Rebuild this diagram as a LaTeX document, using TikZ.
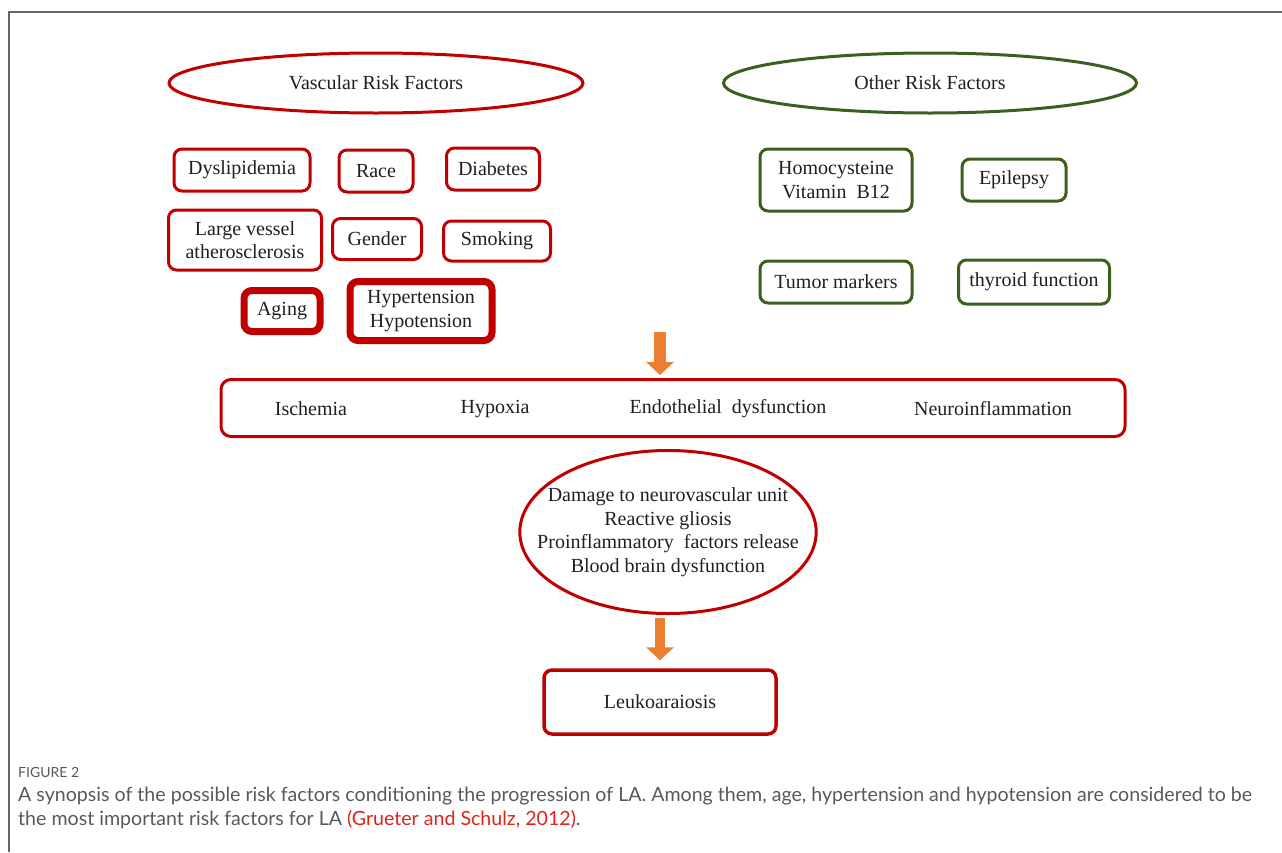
\documentclass[tikz,border=0pt]{standalone}
\usepackage{fontspec}
\setmainfont{Liberation Serif}
\newfontfamily\capfont{Lato}
\usetikzlibrary{shapes.geometric,arrows.meta}
\definecolor{vascred}{HTML}{C00000}
\definecolor{othergreen}{HTML}{3A5F1E}
\definecolor{flowarrow}{HTML}{ED7D31}
\definecolor{capgrey}{HTML}{58595B}
\definecolor{citered}{HTML}{E2231A}

\begin{document}
\begin{tikzpicture}[x=1pt, y=-1pt,
  every node/.style={font=\fontsize{20}{23.5}\selectfont, text=black!88, align=center, inner sep=0pt},
  redbox/.style={draw=vascred, line width=3pt, rounded corners=8pt},
  thickbox/.style={redbox, line width=7pt},
  greenbox/.style={draw=othergreen, line width=3pt, rounded corners=8pt},
  riskhead/.style={ellipse, line width=3pt},
  bigarrow/.style={flowarrow, line width=12pt, -{Triangle[length=13pt, width=27pt]}},
  caption/.style={font=\capfont\fontsize{19.6}{24}\selectfont, text=capgrey, anchor=base west}]
\useasboundingbox (0,0) rectangle (1282,852);
\draw[black!60, line width=1.5pt] (9,852) -- (9,12) -- (1282,12);

\node[riskhead, draw=vascred, minimum width=414pt, minimum height=60pt] (vasc) at (376,83) {Vascular Risk Factors};
\node[riskhead, draw=othergreen, minimum width=413pt, minimum height=60pt] (other) at (930,83) {Other Risk Factors};

\node[redbox, minimum width=136pt, minimum height=42pt] (dysl) at (242,170) {Dyslipidemia};
\node[redbox, minimum width=74pt, minimum height=42pt] (race) at (376,171) {Race};
\node[redbox, minimum width=93pt, minimum height=42pt] (diab) at (493,169) {Diabetes};
\node[redbox, minimum width=153pt, minimum height=60pt] (vessel) at (245,240) {Large vessel\\atherosclerosis};
\node[redbox, minimum width=89pt, minimum height=41pt] (gender) at (377,239) {Gender};
\node[redbox, minimum width=107pt, minimum height=40pt] (smok) at (497,241) {Smoking};
\node[thickbox, minimum width=76pt, minimum height=41pt] (aging) at (282,311) {Aging};
\node[thickbox, minimum width=142pt, minimum height=59pt] (tension) at (421,311) {Hypertension\\Hypotension};

\node[greenbox, minimum width=152pt, minimum height=62pt] (homo) at (836,180) {Homocysteine\\Vitamin~~B12};
\node[greenbox, minimum width=104pt, minimum height=42pt] (epil) at (1014,180) {Epilepsy};
\node[greenbox, minimum width=152pt, minimum height=42pt] (tumor) at (836,282) {Tumor markers};
\node[greenbox, minimum width=151pt, minimum height=44pt] (thyr) at (1034,282) {thyroid function};

\node[redbox, rounded corners=10pt, minimum width=904pt, minimum height=57pt] (mech) at (673,408) {};
\node (isch) at (311,409) {Ischemia};
\node (hypox) at (495,409) {Hypoxia};
\node (endo) at (728,409) {Endothelial~~dysfunction};
\node (neuro) at (993,409) {Neuroinflammation};

\node[ellipse, draw=vascred, line width=3pt, inner xsep=-26pt, minimum height=163pt] (damage) at (668,532) {Damage to neurovascular unit\\Reactive gliosis\\Proinflammatory~ factors release\\Blood brain dysfunction};
\node[redbox, line width=3.5pt, minimum width=232pt, minimum height=64pt] (leuko) at (660,702) {Leukoaraiosis};

\coordinate (start) at (660,332);
\draw[bigarrow] (start) -- ([yshift=3pt]mech.north -| start);
\draw[bigarrow, line width=10pt] ([yshift=-3pt]damage.south -| leuko.north) -- ([yshift=8pt]leuko.north);

\node[caption, font=\capfont\fontsize{14}{14}\selectfont] (fig) at (18,777) {FIGURE 2};
\node[caption] (cap1) at (18,801) {A synopsis of the possible risk factors conditioning the progression of LA. Among them, age, hypertension and hypotension are considered to be};
\node[caption] (cap2) at (18,825) {the most important risk factors for LA \textcolor{citered}{(Grueter and Schulz, 2012)}.};
\end{tikzpicture}
\end{document}
